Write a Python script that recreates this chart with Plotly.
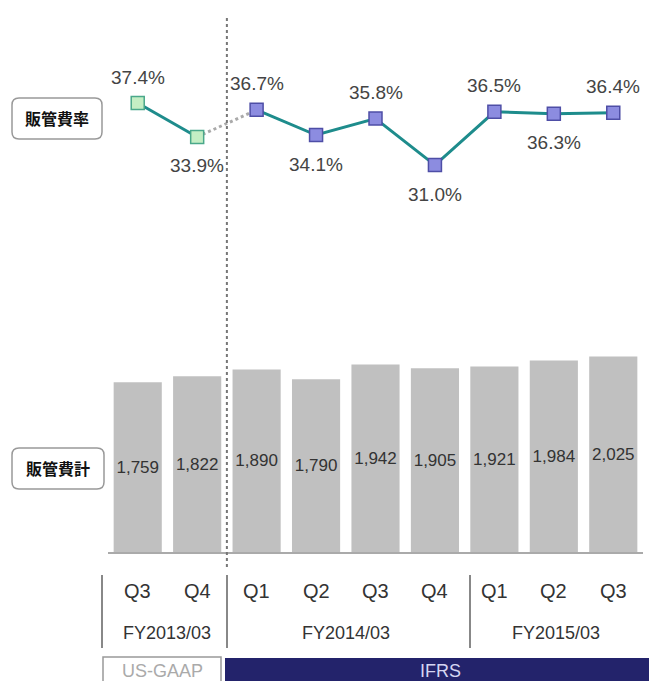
import plotly.graph_objects as go

# ---- data ----
quarters = ["Q3", "Q4", "Q1", "Q2", "Q3", "Q4", "Q1", "Q2", "Q3"]
fiscal_years = ["FY2013/03", "FY2014/03", "FY2015/03"]
fy_centers = [0.5, 3.5, 7.03]
sga_total = [1759, 1822, 1890, 1790, 1942, 1905, 1921, 1984, 2025]
sga_ratio = [37.4, 33.9, 36.7, 34.1, 35.8, 31.0, 36.5, 36.3, 36.4]
label_pos = ["above", "below", "above", "below", "above", "below", "above", "below", "above"]
usgaap_idx = [0, 1]
ifrs_idx = [2, 3, 4, 5, 6, 7, 8]

OFF = 8  # default page body margin
W, H = 657 - OFF, 681 - OFF
L, R, T, B = 108 - OFF, 14, 40 - OFF, 129
PW = W - L - R
PH = H - T - B


def px(p):
    return (p - OFF - L) / PW


def py(p):
    return (H - B - (p - OFF)) / PH


FONT = "Liberation Sans, Arial, sans-serif"
TEAL = "#1e8c8c"

fig = go.Figure()

# bars
fig.add_trace(go.Bar(
    x=list(range(len(sga_total))), y=sga_total,
    marker=dict(color="#c0c0c0", line=dict(width=0)),
    width=0.81,
    text=[f"{v:,}" for v in sga_total],
    textposition="inside", insidetextanchor="middle", constraintext="none", textangle=0,
    textfont=dict(family=FONT, size=17, color="#333333"),
    showlegend=False, hoverinfo="skip",
))

# dotted connector between US-GAAP and IFRS
fig.add_trace(go.Scatter(
    x=[usgaap_idx[-1], ifrs_idx[0]], y=[sga_ratio[usgaap_idx[-1]], sga_ratio[ifrs_idx[0]]],
    yaxis="y2", mode="lines", line=dict(color="#aaaaaa", width=3, dash="dot"),
    showlegend=False, hoverinfo="skip",
))
# US-GAAP line
fig.add_trace(go.Scatter(
    x=usgaap_idx, y=[sga_ratio[i] for i in usgaap_idx], yaxis="y2",
    mode="lines+markers", line=dict(color=TEAL, width=3),
    marker=dict(symbol="square", size=13, color="#c4eec4", line=dict(color="#4aa88a", width=1.5)),
    showlegend=False, hoverinfo="skip",
))
# IFRS line
fig.add_trace(go.Scatter(
    x=ifrs_idx, y=[sga_ratio[i] for i in ifrs_idx], yaxis="y2",
    mode="lines+markers", line=dict(color=TEAL, width=3),
    marker=dict(symbol="square", size=13, color="#8c8ce0", line=dict(color="#4e4ea6", width=1.5)),
    showlegend=False, hoverinfo="skip",
))

ann = []
for i, (v, p) in enumerate(zip(sga_ratio, label_pos)):
    ann.append(dict(x=i, y=v, xref="x", yref="y2", text=f"{v:.1f}%", showarrow=False,
                    yshift=26 if p == "above" else -29, xanchor="center", yanchor="middle",
                    font=dict(family=FONT, size=19, color="#444444")))

for i, q in enumerate(quarters):
    ann.append(dict(x=i, y=py(591), xref="x", yref="paper", text=q, showarrow=False,
                    xanchor="center", yanchor="middle",
                    font=dict(family=FONT, size=20, color="#333333")))
for c, fy in zip(fy_centers, fiscal_years):
    ann.append(dict(x=c, y=py(633), xref="x", yref="paper", text=fy, showarrow=False,
                    xanchor="center", yanchor="middle",
                    font=dict(family=FONT, size=18, color="#333333")))

# left boxed labels
ann.append(dict(x=px(57), y=py(118), xref="paper", yref="paper", text="<b>販管費率</b>",
                showarrow=False, xanchor="center", yanchor="middle",
                font=dict(family="Noto Sans CJK JP", size=16, color="#111111")))
ann.append(dict(x=px(58), y=py(468), xref="paper", yref="paper", text="<b>販管費計</b>",
                showarrow=False, xanchor="center", yanchor="middle",
                font=dict(family="Noto Sans CJK JP", size=16, color="#111111")))

# bottom band labels
ann.append(dict(x=px(162), y=py(671), xref="paper", yref="paper", text="US-GAAP",
                showarrow=False, xanchor="center", yanchor="middle",
                font=dict(family=FONT, size=18, color="#aaaaaa")))
ann.append(dict(x=px(440), y=py(671), xref="paper", yref="paper", text="IFRS",
                showarrow=False, xanchor="center", yanchor="middle",
                font=dict(family=FONT, size=18, color="#d6d6f2")))


def rrect(x0, y0, x1, y1, r):
    X0, X1 = px(x0), px(x1)
    Y0, Y1 = py(y0), py(y1)
    rx, ry = r / PW, r / PH
    return (f"M {X0+rx},{Y0} L {X1-rx},{Y0} Q {X1},{Y0} {X1},{Y0-ry} "
            f"L {X1},{Y1+ry} Q {X1},{Y1} {X1-rx},{Y1} L {X0+rx},{Y1} "
            f"Q {X0},{Y1} {X0},{Y1+ry} L {X0},{Y0-ry} Q {X0},{Y0} {X0+rx},{Y0} Z")


shapes = [
    dict(type="path", xref="paper", yref="paper", path=rrect(12, 98, 102, 139, 7),
         line=dict(color="#999999", width=1.5), fillcolor="white", layer="below"),
    dict(type="path", xref="paper", yref="paper", path=rrect(12, 448, 104, 489, 7),
         line=dict(color="#999999", width=1.5), fillcolor="white", layer="below"),
    # vertical dotted divider
    dict(type="line", xref="x", yref="paper", x0=1.5, x1=1.5, y0=py(18), y1=py(570),
         line=dict(color="#777777", width=2, dash="dot")),
    # axis separators
    dict(type="line", xref="paper", yref="paper", x0=px(102), x1=px(102), y0=py(575), y1=py(648),
         line=dict(color="#888888", width=2)),
    dict(type="line", xref="paper", yref="paper", x0=px(227), x1=px(227), y0=py(575), y1=py(648),
         line=dict(color="#888888", width=2)),
    dict(type="line", xref="paper", yref="paper", x0=px(470), x1=px(470), y0=py(575), y1=py(648),
         line=dict(color="#888888", width=2)),
    # bottom band
    dict(type="rect", xref="paper", yref="paper", x0=px(103), x1=px(221), y0=py(657), y1=py(695),
         line=dict(color="#999999", width=1.5), fillcolor="white", layer="below"),
    dict(type="rect", xref="paper", yref="paper", x0=px(225), x1=px(660), y0=py(658), y1=py(695),
         line=dict(width=0), fillcolor="#23236b", layer="below"),
]

fig.update_layout(
    width=W, height=H,
    margin=dict(l=L, r=R, t=T, b=B),
    paper_bgcolor="white", plot_bgcolor="white",
    xaxis=dict(range=[-0.5, 8.5], showticklabels=False, ticks="", showgrid=False,
               zeroline=False, showline=True, linecolor="#aaaaaa", linewidth=2),
    yaxis=dict(domain=[0, 0.42], range=[0, 2228], visible=False, showgrid=False, zeroline=False),
    yaxis2=dict(domain=[0.6, 1.0], range=[22.78, 43.9], visible=False, showgrid=False,
                zeroline=False, anchor="x"),
    annotations=ann, shapes=shapes,
    showlegend=False,
)

fig.write_html("out.html")
